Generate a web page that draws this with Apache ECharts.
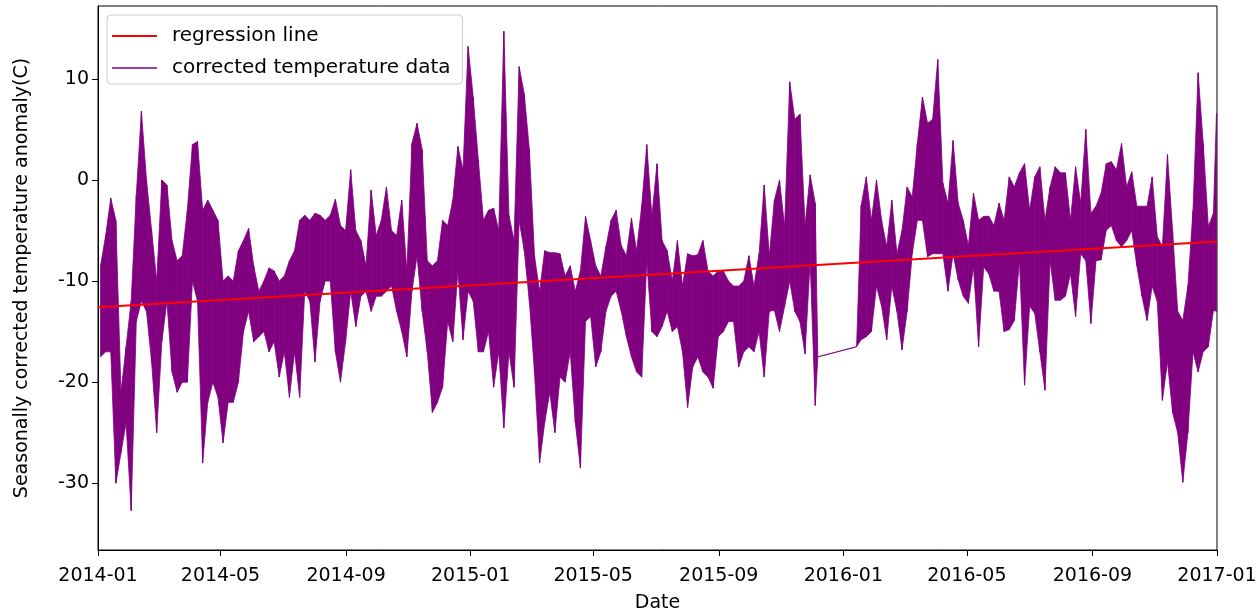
<!DOCTYPE html>
<html><head><meta charset="utf-8">
<script src="https://cdn.jsdelivr.net/npm/echarts@6/dist/echarts.min.js"></script>
<style>html,body{margin:0;padding:0;background:#fff}#chart{width:1258px;height:611px}</style>
</head><body><div id="chart"></div>
<script>
// ---- data ----
const startDate = '2014-01-01';
const endDate = '2017-01-01';
const binDays = 5; // each entry = [highest, lowest] value seen within a 5-day span (null = no data)
const tickLabels = ['2014-01','2014-05','2014-09','2015-01','2015-05','2015-09','2016-01','2016-05','2016-09','2017-01'];
const yTicks = [-30, -20, -10, 0, 10];
const regressionDates = ['2014-01-01', '2017-01-01'];
const regressionValues = [-12.6, -6.1];
// last reading before and first reading after the data gap
const gapDates = ['2015-12-07', '2016-01-14'];
const gapValues = [-17.5, -16.5];

const part1 = [[-8.5,-17.5],[-5.5,-17],[-1.8,-17],[-4,-30],[-21,-27],[-16.5,-24],[-12,-32.7],[-1.5,-14],[6.8,-12],[0,-13],[-5,-18],[-10,-25],[0,-16],[-0.5,-12],[-6,-19],[-8,-21],[-7.5,-20],[-3,-20],[3.5,-10],[3.8,-12],[-3,-28],[-2,-22]];
const part2 = [[-3,-20],[-4,-21.5],[-10,-26],[-9.5,-22],[-10,-22],[-7,-20],[-6,-15],[-4.8,-13],[-8.5,-16],[-11,-15.5],[-10,-15],[-8.7,-17],[-9,-16],[-10,-19.5],[-9.5,-17],[-8,-21.5],[-7,-17],[-4,-21.5],[-3.5,-11],[-4,-12],[-3.3,-18],[-3.5,-12]];
const part3 = [[-4,-10],[-3.5,-10],[-1.9,-17],[-4.5,-20],[-5,-16],[1,-11],[-5,-14.5],[-6,-11.5],[-8.5,-11],[-1,-13],[-5.5,-11.5],[-4,-11.5],[-0.7,-11],[-5,-10.5],[-5.5,-13],[-2,-15],[-9,-17.5],[3.6,-11],[5.6,-7.5],[3,-13],[-8,-17],[-8.5,-23]];
const part4 = [[-8,-22],[-4,-20.5],[-4.5,-14],[-2,-16],[3.3,-9],[1,-15.8],[13.2,-11],[8.2,-12],[2,-17],[-4,-17],[-3,-15],[-2.8,-20.5],[-5,-17],[14.7,-24.5],[-3.5,-17],[-6,-20.5],[11.2,-4],[8.5,-7],[3,-12],[-7.5,-19],[-11,-28],[-7,-24]];
const part5 = [[-7.2,-21],[-7.2,-25],[-7.3,-19.5],[-9.5,-20],[-8.5,-17],[-11,-24],[-9,-28.5],[-3.6,-14],[-6,-13.5],[-8.5,-18.5],[-9.5,-17],[-6.6,-13],[-4,-11.5],[-3,-11],[-6.5,-13],[-7.5,-15.5],[-3.8,-17.5],[-7,-19],[-2.6,-19.5],[3.5,-8],[-3.6,-15],[1.6,-15.5]];
const part6 = [[-6,-14.5],[-7,-13],[-10,-15],[-6,-14.5],[-10.5,-17],[-7.3,-22.5],[-7.5,-18.5],[-7.4,-17.5],[-6,-19],[-9,-19.5],[-9.5,-20.6],[-9,-15.5],[-9,-15],[-10,-14],[-10.5,-14],[-10.5,-18.5],[-10,-17],[-7.5,-16.5],[-10.5,-17],[-7.3,-15],[-0.5,-19.5],[-7.5,-13]];
const part7 = [[-2,-12.9],[0,-15],[-4.6,-12.5],[9.7,-10],[6,-13],[6.5,-14],[-4.5,-17.2],[0.5,-8],[-2.3,-22.3],null,null,null,null,null,null,null,null,[-2.5,-15.8],[0.3,-15.5],[-4,-15],[0,-10.5],[-4,-12.5]];
const part8 = [[-6.6,-15.8],[-2,-10.5],[-7.3,-13],[-5,-16.8],[-0.7,-13],[-1.7,-7.3],[3.6,-4],[8.2,-4],[5.6,-7.6],[6,-7.3],[11.9,-7.3],[-0.3,-7.3],[-2.3,-11],[3.9,-7.3],[-2.3,-9.9],[-4,-11.5],[-6.5,-12.2],[-1.3,-8.6],[-4,-16.5],[-3.6,-8.6],[-3.6,-9.3],[-4.5,-11]];
const part9 = [[-2.3,-11],[-4,-15],[0.3,-14.8],[-0.7,-13.9],[0.7,-8],[1.6,-20.3],[-3,-12.5],[0.3,-13.2],[1.3,-17],[-4,-20.8],[-0.7,-8],[1.3,-11.9],[0.7,-11.9],[0.7,-11.5],[-4,-9.3],[1.3,-13.5],[-2.3,-7.3],[5,-8],[-3.3,-14.2],[-2.6,-8],[-1.3,-7.9],[1.6,-5]];
const part10 = [[1.8,-4.5],[1,-6],[3.6,-6.6],[-0.7,-6],[0.8,-5],[-2.6,-8.5],[-2.6,-11.5],[-2.6,-13.9],[0.3,-10.5],[-5.6,-12],[-6.6,-21.8],[2.5,-18],[-5,-23],[-13,-25],[-13.9,-29.9],[-10.5,-25],[-3,-17],[10.6,-19],[3.6,-17],[-4.6,-16.5],[-3.3,-12.9],[6.6,-13]];

// ---- build series ----
const DAY = 86400000;
function ts(s) { const p = s.split('-').map(Number); return Date.UTC(p[0], p[1] - 1, p[2] || 1); }
const t0 = ts(startDate), tEnd = ts(endDate);
const totalDays = (tEnd - t0) / DAY;
const bins = [].concat(part1, part2, part3, part4, part5, part6, part7, part8, part9, part10);
const env = []; // [time, low, high]
bins.forEach((b, k) => {
  if (!b) return;
  const span = Math.min(binDays, totalDays - k * binDays);
  env.push([t0 + (k * binDays + span / 2) * DAY, b[1], b[0]]);
});
gapDates.forEach((d, i) => env.push([ts(d), gapValues[i], gapValues[i]]));
env.sort((a, b) => a[0] - b[0]);
// one polygon piece per pair of consecutive readings: [t1, low1, high1, t2, low2, high2]
const pieces = [];
for (let i = 0; i + 1 < env.length; i++) pieces.push(env[i].concat(env[i + 1]));
const regData = regressionDates.map((d, i) => [ts(d), regressionValues[i]]);
const tickTs = tickLabels.map(ts);
function fmt(v) { const i = tickTs.indexOf(v); return i >= 0 ? tickLabels[i] : ''; }

const FONT = 'DejaVu Sans';
const PURPLE = '#800080';
function renderPiece(params, api) {
  const a = api.coord([api.value(0), api.value(1)]);
  const b = api.coord([api.value(0), api.value(2)]);
  const c = api.coord([api.value(3), api.value(5)]);
  const d = api.coord([api.value(3), api.value(4)]);
  return {
    type: 'polygon',
    shape: { points: [a, b, c, d] },
    style: { fill: PURPLE, stroke: PURPLE, lineWidth: 0.8 }
  };
}
const chart = echarts.init(document.getElementById('chart'), null, { renderer: 'canvas' });
chart.setOption({
  animation: false,
  backgroundColor: '#fff',
  textStyle: { fontFamily: FONT },
  grid: { left: 98, right: 41, top: 6, bottom: 61, outerBoundsMode: 'none', containLabel: false,
          show: true, borderColor: '#000', borderWidth: 1, backgroundColor: 'transparent' },
  legend: {
    orient: 'vertical', left: 107, top: 15,
    padding: [10, 12, 5, 5], itemGap: 10, itemWidth: 45, itemHeight: 2,
    backgroundColor: 'rgba(255,255,255,0.8)', borderColor: '#ccc', borderWidth: 1, borderRadius: 4,
    textStyle: { fontFamily: FONT, fontSize: 20, color: '#000', lineHeight: 22, padding: [0, 0, 0, 10] },
    data: [{ name: 'regression line', icon: 'rect', itemStyle: { color: '#ff0000' } },
           { name: 'corrected temperature data', icon: 'path://M0,0H45V1.4H0Z', itemStyle: { color: PURPLE } }]
  },
  xAxis: {
    type: 'value', min: t0, max: tEnd,
    name: 'Date', nameLocation: 'middle', nameGap: 44,
    nameTextStyle: { fontFamily: FONT, fontSize: 19, color: '#000' },
    axisLine: { show: true, onZero: false, lineStyle: { color: '#000', width: 1 } },
    axisTick: { show: true, customValues: tickTs, length: 6, lineStyle: { color: '#000' } },
    axisLabel: { customValues: tickTs, formatter: fmt, fontFamily: FONT, fontSize: 19, color: '#000', margin: 17, showMinLabel: true, showMaxLabel: true, hideOverlap: false },
    splitLine: { show: false }
  },
  yAxis: {
    type: 'value', min: -36.6, max: 17.2,
    name: 'Seasonally corrected temperature anomaly(C)', nameLocation: 'middle', nameGap: 66,
    nameTextStyle: { fontFamily: FONT, fontSize: 19, color: '#000' },
    axisLine: { show: true, onZero: false, lineStyle: { color: '#000', width: 1 } },
    axisTick: { show: true, customValues: yTicks, length: 6, lineStyle: { color: '#000' } },
    axisLabel: { customValues: yTicks, fontFamily: FONT, fontSize: 19, color: '#000', margin: 9 },
    splitLine: { show: false }
  },
  series: [
    { name: 'corrected temperature data', type: 'custom', data: pieces, renderItem: renderPiece,
      encode: { x: [0, 3], y: [1, 2, 4, 5] }, clip: true, itemStyle: { color: PURPLE }, z: 2 },
    { name: 'regression line', type: 'line', data: regData, symbol: 'none',
      lineStyle: { color: '#ff0000', width: 2 }, itemStyle: { color: '#ff0000' }, z: 3 }
  ]
});
</script>
</body></html>
